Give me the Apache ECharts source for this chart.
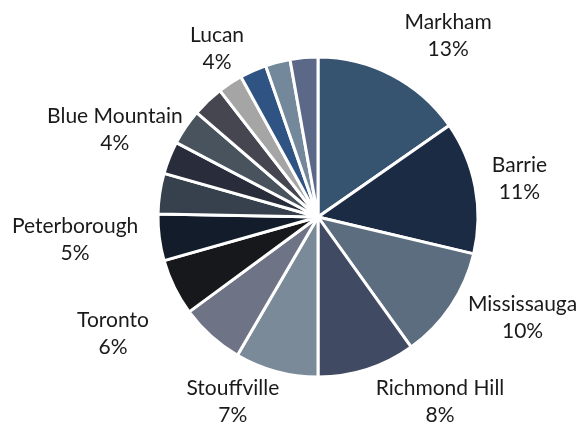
<!DOCTYPE html>
<html>
<head>
<meta charset="utf-8">
<script src="https://cdn.jsdelivr.net/npm/echarts@6/dist/echarts.min.js"></script>
<style>
  html, body { margin: 0; padding: 0; background: #ffffff; }
  #chart { width: 580px; height: 426px; }
</style>
</head>
<body>
<div id="chart"></div>
<script>
// slices in clockwise order from 12 o'clock; the small ones carry no label
const cities = ['Markham', 'Barrie', 'Mississauga', 'Richmond Hill', 'Stouffville',
  'Toronto', 'Peterborough', 'Blue Mountain', 'Lucan', '', '', '', '', '', '', ''];
// slice sizes (share of the circle, %)
const values = [15.3, 13.4, 11.4, 9.9, 8.4, 6.5, 5.7, 4.7, 4.1, 3.3, 3.6, 3.2, 2.5, 2.7, 2.5, 2.8];
// percentages printed in the labels
const shares = [13, 11, 10, 8, 7, 6, 5, 4, 4];

const colors = ['#365370', '#1c2b44', '#5b6d7e', '#414a63', '#7a8a98', '#6f7386',
  '#17181c', '#121c2a', '#37414d', '#282c3b', '#48535d', '#45464f', '#a5a5a5',
  '#2f5382', '#73889b', '#5b6888'];

// label placement: [angle from 12 o'clock, distance from the centre]
const labelSpots = [[35.7, 223], [79.3, 205], [116.2, 228], [146.5, 221], [204.8, 203],
  [240.3, 236], [264.6, 244], [293.2, 221], [329, 196]];

const cx = 318, cy = 217;

const chart = echarts.init(document.getElementById('chart'));

const option = {
  animation: false,
  series: [{
    type: 'pie',
    center: [cx, cy],
    radius: 160,
    startAngle: 90,
    clockwise: true,
    avoidLabelOverlap: false,
    data: values.map((v, i) => ({
      name: cities[i] || ('slice' + i),
      value: v,
      itemStyle: { color: colors[i] },
      label: { show: i < shares.length },
    })),
    itemStyle: { borderColor: '#ffffff', borderWidth: 3 },
    label: {
      position: 'outside',
      formatter: (p) => cities[p.dataIndex] + '\n' + shares[p.dataIndex] + '%',
      fontFamily: 'Lato',
      fontSize: 21,
      lineHeight: 27,
      color: '#1a1a1a',
      align: 'center',
    },
    labelLine: { show: false },
    labelLayout: (p) => {
      const s = labelSpots[p.dataIndex];
      if (!s) return {};
      const a = s[0] * Math.PI / 180;
      return {
        x: cx + s[1] * Math.sin(a),
        y: cy - s[1] * Math.cos(a),
        align: 'center',
        verticalAlign: 'middle',
      };
    },
    emphasis: { disabled: true },
  }],
};

chart.setOption(option);
</script>
</body>
</html>
